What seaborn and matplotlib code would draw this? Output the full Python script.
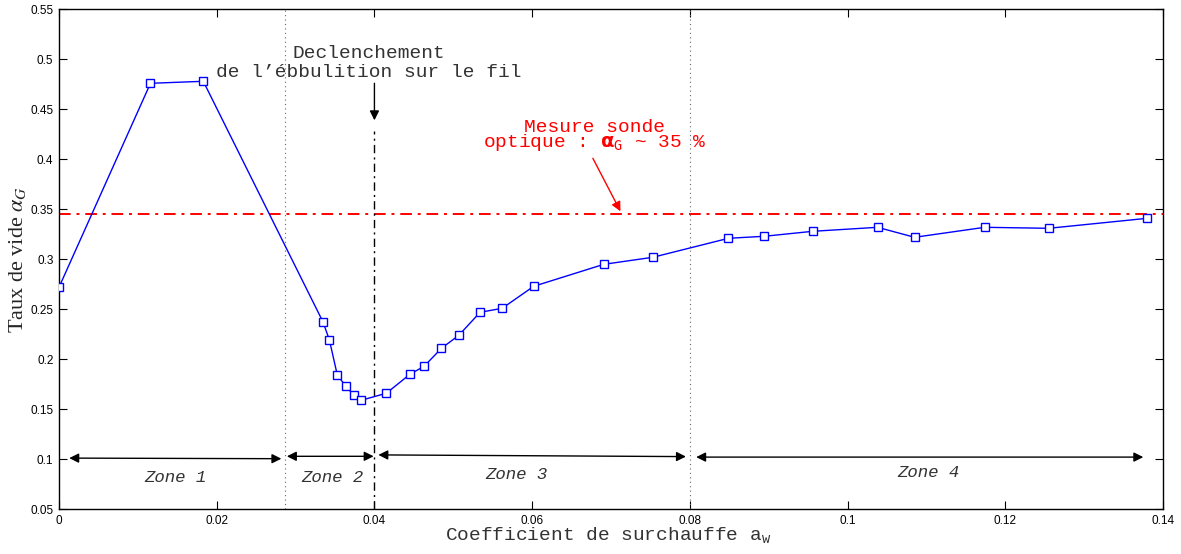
import matplotlib
matplotlib.use("Agg")
import matplotlib.pyplot as plt
import seaborn as sns
import pandas as pd

# ---- data ----
x_vals = [0.0, 0.0116, 0.0183, 0.0335, 0.0343, 0.0353, 0.0364, 0.0374, 0.0383,
          0.0415, 0.0445, 0.0463, 0.0485, 0.0507, 0.0534, 0.0562, 0.0602, 0.0691,
          0.0753, 0.0849, 0.0894, 0.0956, 0.1038, 0.1085, 0.1174, 0.1255, 0.1380]
y_vals = [0.272, 0.476, 0.478, 0.237, 0.219, 0.184, 0.173, 0.164, 0.159,
          0.166, 0.185, 0.193, 0.211, 0.224, 0.247, 0.251, 0.273, 0.295,
          0.302, 0.321, 0.323, 0.328, 0.332, 0.322, 0.332, 0.331, 0.341]

probe_level = 0.3455
zone_limits = [0.0287, 0.08]
onset_x = 0.04
zone_labels = ["Zone 1", "Zone 2", "Zone 3", "Zone 4"]
zone_x0 = [0.0013, 0.0289, 0.0405, 0.0808]
zone_x1 = [0.0282, 0.0399, 0.0795, 0.1375]
zone_y0 = [0.1012, 0.1030, 0.1044, 0.1022]
zone_y1 = [0.1006, 0.1030, 0.1027, 0.1022]
zone_tx = [0.0147, 0.0347, 0.0580, 0.1103]
zone_ty = [0.0819, 0.0820, 0.0846, 0.0865]
onset_text = "Declenchement\nde l\u2019\u00e9bbulition sur le fil"
onset_pos = (0.0393, 0.4820)
probe_text = "Mesure sonde\noptique : $\\mathbf{\\alpha}_{\\mathtt{G}}$ ~ 35 %"
probe_pos = (0.0679, 0.4120)
x_ticks = [0, 0.02, 0.04, 0.06, 0.08, 0.1, 0.12, 0.14]
x_ticklabels = ["0", "0.02", "0.04", "0.06", "0.08", "0.1", "0.12", "0.14"]
y_ticks = [0.05, 0.1, 0.15, 0.2, 0.25, 0.3, 0.35, 0.4, 0.45, 0.5, 0.55]
y_ticklabels = ["0.05", "0.1", "0.15", "0.2", "0.25", "0.3", "0.35", "0.4", "0.45", "0.5", "0.55"]

df = pd.DataFrame({"aw": x_vals, "alpha": y_vals})

sns.set_style("ticks")
plt.rcParams["font.family"] = ["Liberation Sans", "DejaVu Sans"]

fig = plt.figure(figsize=(11.81, 5.54), dpi=100)
ax = fig.add_axes([59 / 1181, 1 - 509.3 / 554, (1163 - 59) / 1181, 500 / 554])

mono = "Liberation Mono"

# zone separators
for zx in zone_limits:
    ax.axvline(zx, color="#666666", linestyle=(0, (1, 3)), linewidth=0.8, zorder=1)

# red probe line
ax.plot([0, 0.14], [probe_level, probe_level], color="red", linestyle=(0, (6, 3, 1.5, 3)),
        linewidth=1.4, zorder=2)

# onset line
ax.plot([onset_x, onset_x], [0.05, 0.428], color="black", linestyle=(0, (6, 3, 1.5, 3)),
        linewidth=1.0, zorder=2)

# main series
sns.lineplot(data=df, x="aw", y="alpha", ax=ax, estimator=None, sort=False,
             color="#0000ff", linewidth=1.0, marker="s", markersize=5.5,
             markerfacecolor="white", markeredgecolor="#0000ff", markeredgewidth=1.0,
             zorder=3)

# zone arrows and labels
for lab, a0, a1, b0, b1, tx, ty in zip(zone_labels, zone_x0, zone_x1, zone_y0, zone_y1, zone_tx, zone_ty):
    ax.annotate("", xy=(a1, b1), xytext=(a0, b0),
                arrowprops=dict(arrowstyle="<|-|>", color="black", lw=1.0,
                                mutation_scale=14, shrinkA=0, shrinkB=0))
    ax.text(tx, ty, lab, family=mono, style="italic", fontsize=12.5, color="#333333",
            ha="center", va="center")

# onset annotation
ax.annotate("", xy=(onset_x, 0.439), xytext=(onset_x, 0.476),
            arrowprops=dict(arrowstyle="-|>", color="black", lw=1.0,
                            mutation_scale=14, shrinkA=0, shrinkB=0))
ax.text(onset_pos[0], onset_pos[1], onset_text, family=mono, fontsize=14, color="#333333",
        ha="center", va="baseline", linespacing=1.2)

# probe annotation
ax.annotate("", xy=(0.0712, 0.348), xytext=(0.0677, 0.401),
            arrowprops=dict(arrowstyle="-|>", color="red", lw=1.0,
                            mutation_scale=14, shrinkA=0, shrinkB=0))
ax.text(probe_pos[0], probe_pos[1], probe_text, family=mono, fontsize=14, color="red",
        ha="center", va="baseline", linespacing=0.75)

ax.set_xlim(0, 0.14)
ax.set_ylim(0.05, 0.55)
ax.set_xticks(x_ticks)
ax.set_xticklabels(x_ticklabels)
ax.set_yticks(y_ticks)
ax.set_yticklabels(y_ticklabels)
ax.tick_params(direction="in", length=6, width=0.8, top=True, right=True,
               labelsize=8.5, pad=4, colors="black")
for sp in ax.spines.values():
    sp.set_visible(True)
    sp.set_linewidth(1.0)
    sp.set_color("black")

ax.set_xlabel("Coefficient de surchauffe a$_{\\mathtt{w}}$", family=mono, fontsize=14,
              color="#333333")
ax.xaxis.set_label_coords(0.497, -0.0634, transform=ax.transAxes)
ax.xaxis.label.set_va("baseline")
ax.set_ylabel("Taux de vide $\\alpha_G$", family="Liberation Serif", fontsize=16,
              math_fontfamily="stix")
ax.yaxis.set_label_coords(-41 / 1104, 0.5)
ax.yaxis.label.set_va("center")

fig.savefig("out.png", dpi=100)
